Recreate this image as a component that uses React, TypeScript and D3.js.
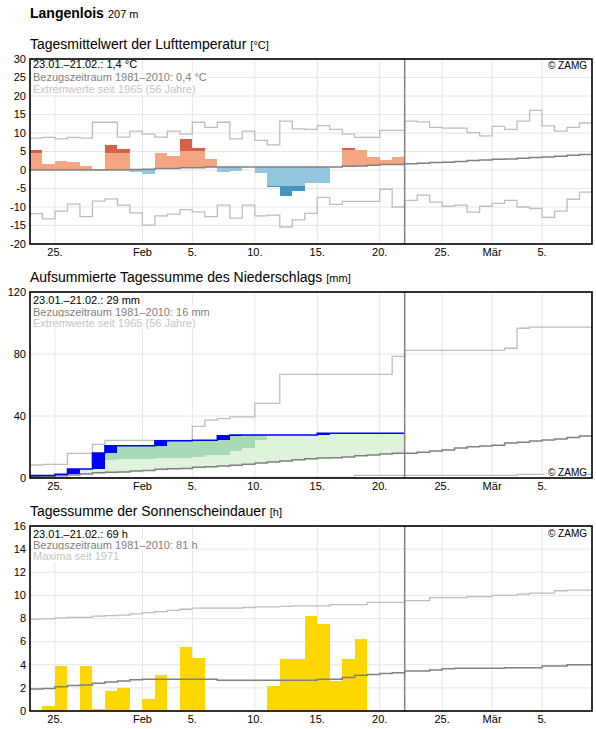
import { useEffect, useRef } from 'react';
import * as d3 from 'd3';

const startDate = new Date(Date.UTC(2021, 0, 23));
const dayCount = 45;
const todayIndex = 30;

const tickDays = [2, 9, 13, 18, 23, 28, 33, 37, 41];
const tickLabels = ['25.', 'Feb', '5.', '10.', '15.', '20.', '25.', 'Mär', '5.'];

// Lufttemperatur, Tagesmittel (°C), 23.01.–21.02.
const tempMean = [5.5, 1.6, 2.4, 2.2, 1.1, 0.2, 6.8, 5.7, -0.5, -1.0, 4.7, 3.9, 8.5, 6.0, 3.1, -0.6, -0.4, 0.8, -0.9, -4.6, -7.1, -5.8, -3.4, -3.6, 0.8, 6.0, 5.5, 3.5, 2.8, 3.6];
const tempClim = [0, 0, 0, 0, 0, 0, 0, 0, 0.15, 0.2, 0.4, 0.4, 0.6, 0.6, 0.8, 0.8, 0.8, 0.8, 0.8, 0.8, 0.8, 0.8, 0.8, 0.8, 0.8, 1.0, 1.1, 1.3, 1.5, 1.5, 1.7, 1.8, 2.0, 2.1, 2.3, 2.6, 2.7, 2.9, 3.0, 3.2, 3.4, 3.5, 3.7, 4.0, 4.2];
const tempMax = [8.6, 8.8, 8.4, 8.8, 8.6, 12.9, 12.9, 8.9, 10.5, 9.7, 8.9, 10.5, 9.7, 12.9, 11.5, 12.9, 8.4, 10.5, 8.0, 6.8, 13.2, 11.1, 11.0, 12.0, 11.0, 9.7, 8.8, 8.8, 10.7, 10.7, 13.2, 13.0, 11.5, 11.3, 11.3, 10.1, 9.2, 11.8, 11.0, 13.2, 16.1, 11.9, 10.5, 11.5, 12.7];
const tempMin = [-11.8, -13.2, -11.1, -9.2, -12.6, -8.4, -7.8, -9.5, -11.6, -14.9, -12.4, -11.9, -10.7, -11.3, -12.6, -9.5, -13.0, -9.5, -12.4, -12.2, -15.4, -13.5, -11.7, -7.4, -9.3, -8.5, -8.5, -8.5, -5.2, -10.0, -8.2, -6.8, -8.7, -9.8, -9.5, -11.4, -9.8, -9.0, -8.2, -10.0, -10.4, -12.8, -11.1, -7.9, -6.0];
const tempUpperDev = 4.5;
const tempLowerDev = -5.2;

// Niederschlag (mm)
const precipDaily = [1.6, 0, 0.8, 3.4, 0, 10.3, 4.7, 0, 0, 0, 3.3, 0, 0, 0.2, 0, 3.0, 0.4, 0, 0, 0, 0, 0, 0, 1.1, 0, 0, 0, 0, 0, 0];
const precipUpper = [3, 4, 5, 7, 8, 10, 11.8, 12.5, 12.5, 12.5, 12.9, 13.1, 13.1, 13.8, 14.8, 14.8, 17.4, 19.6, 24.5, 29, 30, 31, 32, 33, 34, 35, 36, 37, 38, 39];
const precipClim = [0.6, 1.1, 1.5, 1.9, 2.6, 3.4, 3.7, 3.9, 4.5, 4.9, 5.6, 6.0, 6.2, 6.9, 7.3, 7.7, 8.2, 8.8, 9.7, 10.3, 11.0, 11.8, 12.5, 12.9, 13.1, 13.5, 14.4, 14.8, 15.5, 15.9, 16.0, 16.6, 17.4, 18.1, 19.4, 20.2, 20.6, 21.1, 22.6, 23.0, 23.9, 24.5, 25.2, 26.2, 27.1];
const precipMax = [8.4, 8.8, 8.8, 15.9, 15.9, 21.7, 24.3, 24.3, 24.3, 24.3, 24.3, 24.3, 24.3, 33.3, 37.4, 38.3, 39.4, 39.4, 48.2, 48.2, 66.9, 66.9, 66.9, 66.9, 66.9, 66.9, 66.9, 66.9, 66.9, 78.5, 82.4, 82.4, 82.4, 82.4, 82.4, 82.4, 82.4, 82.4, 83.7, 96.6, 97.4, 97.4, 97.4, 97.4, 97.4];
const precipMin = [0.2, 0.2, 0.2, 0.2, 0.2, 0.2, 0.2, 0.2, 0.2, 0.2, 0.4, 0.4, 0.4, 0.4, 0.4, 0.4, 0.4, 0.4, 0.4, 0.4, 0.4, 0.4, 0.4, 0.4, 0.4, 0.4, 1.7, 1.7, 1.7, 1.7, 1.7, 1.7, 1.7, 1.7, 1.7, 1.7, 1.7, 1.7, 1.7, 2.4, 2.4, 2.4, 2.4, 2.4, 2.4];

// Sonnenscheindauer (h)
const sunDaily = [0, 0.45, 3.9, 0, 3.9, 0.2, 1.7, 2.0, 0, 1.0, 3.1, 0, 5.55, 4.6, 0, 0, 0, 0, 0, 2.2, 4.5, 4.5, 8.2, 7.5, 2.6, 4.5, 6.2, 0, 0, 0];
const sunClim = [1.9, 1.95, 2.1, 2.2, 2.25, 2.4, 2.5, 2.6, 2.7, 2.75, 2.75, 2.75, 2.75, 2.75, 2.75, 2.65, 2.65, 2.65, 2.65, 2.65, 2.65, 2.65, 2.65, 2.75, 2.75, 2.9, 3.1, 3.15, 3.25, 3.3, 3.45, 3.45, 3.55, 3.65, 3.7, 3.7, 3.7, 3.7, 3.75, 3.75, 3.75, 3.9, 3.9, 4.0, 4.0];
const sunMax = [7.94, 7.97, 8.06, 8.1, 8.1, 8.2, 8.25, 8.3, 8.4, 8.5, 8.6, 8.7, 8.8, 8.9, 8.9, 8.9, 8.9, 8.95, 9.0, 9.0, 9.05, 9.1, 9.1, 9.1, 9.2, 9.2, 9.2, 9.4, 9.4, 9.4, 9.55, 9.55, 9.8, 9.8, 9.8, 9.9, 9.9, 10.0, 10.0, 10.1, 10.2, 10.2, 10.4, 10.45, 10.45];

const FONT = '"Liberation Sans", Arial, sans-serif';
const GRID = '#e6e6e6';
const CLIM = '#808080';
const EXTREME = '#bdbdbd';

const day = (i: number) => d3.utcDay.offset(startDate, i);

const App: React.FC = () => {
    const svgRef = useRef<SVGSVGElement>(null);

    useEffect(() => {
        if (!svgRef.current) return;
        const svg = d3.select(svgRef.current);
        svg.selectAll('*').remove();
        svg.append('rect').attr('width', 596).attr('height', 729).attr('fill', '#fff');

        const left = 30, right = 592;
        const x = d3.scaleUtc().domain([day(0), day(dayCount)]).range([left, right]);

        const stepPath = (y: d3.ScaleLinear<number, number>, values: number[]) =>
            d3.line<number>()
                .x((_, i) => x(day(i)))
                .y(v => y(v))
                .curve(d3.curveStepAfter)([...values, values[values.length - 1]]);

        // header
        const head = svg.append('text').attr('x', 30).attr('y', 18).attr('font-family', FONT);
        head.append('tspan').attr('font-size', 14).attr('font-weight', 'bold').text('Langenlois');
        head.append('tspan').attr('font-size', 11).attr('dx', 4).text('207 m');

        const makePanel = (top: number, bottom: number, domain: [number, number], ticks: number[], title: string, unit: string) => {
            const y = d3.scaleLinear().domain(domain).range([bottom, top]);
            const g = svg.append('g');

            const t = g.append('text').attr('x', 30).attr('y', top - 10).attr('font-family', FONT).attr('font-size', 14);
            t.append('tspan').text(title);
            t.append('tspan').attr('font-size', 11).attr('dx', 4).text(unit);

            g.selectAll('.hgrid').data(ticks).join('line')
                .attr('x1', left).attr('x2', right)
                .attr('y1', d => y(d)).attr('y2', d => y(d))
                .attr('stroke', GRID);
            g.selectAll('.vgrid').data(tickDays).join('line')
                .attr('x1', d => x(day(d))).attr('x2', d => x(day(d)))
                .attr('y1', top).attr('y2', bottom)
                .attr('stroke', GRID);

            g.selectAll('.ylab').data(ticks).join('text')
                .attr('x', 26).attr('y', d => y(d)).attr('dy', '0.35em')
                .attr('text-anchor', 'end').attr('font-family', FONT).attr('font-size', 11)
                .text(d => d);
            g.selectAll('.xlab').data(tickDays).join('text')
                .attr('x', d => x(day(d))).attr('y', bottom + 12)
                .attr('text-anchor', 'middle').attr('font-family', FONT).attr('font-size', 11)
                .text((_, i) => tickLabels[i]);

            const data = g.append('g').attr('shape-rendering', 'crispEdges');
            const lines = g.append('g');
            return { y, g, data, lines, top, bottom };
        };

        const finishPanel = (p: { g: d3.Selection<SVGGElement, unknown, null, undefined>; top: number; bottom: number }, lines: string[], baselines: number[], zamgY: number) => {
            p.g.append('line')
                .attr('x1', x(day(todayIndex))).attr('x2', x(day(todayIndex)))
                .attr('y1', p.top).attr('y2', p.bottom)
                .attr('stroke', CLIM).attr('stroke-width', 1.5);

            const colors = ['#000', '#808080', '#c4c4c4'];
            lines.forEach((txt, i) => {
                const tx = p.g.append('text')
                    .attr('x', 33).attr('y', p.top + baselines[i])
                    .attr('font-family', FONT).attr('font-size', 11).attr('fill', colors[i])
                    .text(txt);
                const bb = (tx.node() as SVGTextElement).getBBox();
                p.g.insert('rect', () => tx.node() as SVGTextElement)
                    .attr('x', bb.x - 1).attr('y', bb.y).attr('width', bb.width + 2).attr('height', bb.height)
                    .attr('fill', '#fff');
            });

            const z = p.g.append('text')
                .attr('x', 587).attr('y', zamgY)
                .attr('text-anchor', 'end').attr('font-family', FONT).attr('font-size', 10)
                .text('© ZAMG');
            const zb = (z.node() as SVGTextElement).getBBox();
            p.g.insert('rect', () => z.node() as SVGTextElement)
                .attr('x', zb.x - 4).attr('y', zb.y).attr('width', zb.width + 4).attr('height', zb.height)
                .attr('fill', '#fff');

            p.g.append('rect')
                .attr('x', left).attr('y', p.top).attr('width', right - left).attr('height', p.bottom - p.top)
                .attr('fill', 'none').attr('stroke', '#000').attr('stroke-width', 1.6);
        };

        // ---- Panel 1: Temperatur
        const p1 = makePanel(59, 244, [-20, 30], d3.range(-20, 31, 5), 'Tagesmittelwert der Lufttemperatur', '[°C]');
        tempMean.forEach((v, i) => {
            const c = tempClim[i];
            const x0 = x(day(i)), w = x(day(i + 1)) - x0;
            if (v > c) {
                const hi = c + tempUpperDev;
                p1.data.append('rect').attr('x', x0).attr('width', w)
                    .attr('y', p1.y(Math.min(v, hi))).attr('height', p1.y(c) - p1.y(Math.min(v, hi)))
                    .attr('fill', '#f4a582');
                if (v > hi) p1.data.append('rect').attr('x', x0).attr('width', w)
                    .attr('y', p1.y(v)).attr('height', p1.y(hi) - p1.y(v)).attr('fill', '#d6604d');
            } else if (v < c) {
                const lo = c + tempLowerDev;
                p1.data.append('rect').attr('x', x0).attr('width', w)
                    .attr('y', p1.y(c)).attr('height', p1.y(Math.max(v, lo)) - p1.y(c))
                    .attr('fill', '#92c5de');
                if (v < lo) p1.data.append('rect').attr('x', x0).attr('width', w)
                    .attr('y', p1.y(lo)).attr('height', p1.y(v) - p1.y(lo)).attr('fill', '#4393c3');
            }
        });
        p1.lines.append('path').attr('d', stepPath(p1.y, tempMax)).attr('fill', 'none').attr('stroke', EXTREME).attr('stroke-width', 1.3);
        p1.lines.append('path').attr('d', stepPath(p1.y, tempMin)).attr('fill', 'none').attr('stroke', EXTREME).attr('stroke-width', 1.3);
        p1.lines.append('path').attr('d', stepPath(p1.y, tempClim)).attr('fill', 'none').attr('stroke', CLIM).attr('stroke-width', 1.5);
        finishPanel(p1, ['23.01.–21.02.: 1,4 °C', 'Bezugszeitraum 1981–2010: 0,4 °C', 'Extremwerte seit 1965 (56 Jahre)'], [9, 21.5, 34], 68.5);

        // ---- Panel 2: Niederschlag
        const p2 = makePanel(292, 478, [0, 120], [0, 40, 80, 120], 'Aufsummierte Tagessumme des Niederschlags', '[mm]');
        const precipCum = d3.cumsum(precipDaily);
        precipCum.forEach((cum, i) => {
            const lo = precipClim[i], thr = precipUpper[i];
            const x0 = x(day(i)), w = x(day(i + 1)) - x0;
            if (cum > lo) {
                const top = Math.min(cum, thr);
                if (top > lo) p2.data.append('rect').attr('x', x0).attr('width', w)
                    .attr('y', p2.y(top)).attr('height', p2.y(lo) - p2.y(top)).attr('fill', '#dff2dc');
                if (cum > thr) p2.data.append('rect').attr('x', x0).attr('width', w)
                    .attr('y', p2.y(cum)).attr('height', p2.y(Math.max(thr, lo)) - p2.y(cum)).attr('fill', '#a8dbb5');
            }
            if (precipDaily[i] > 0) p2.data.append('rect').attr('x', x0).attr('width', w)
                .attr('y', p2.y(cum)).attr('height', p2.y(cum - precipDaily[i]) - p2.y(cum)).attr('fill', '#0000ff');
        });
        p2.lines.append('path').attr('d', stepPath(p2.y, precipMax)).attr('fill', 'none').attr('stroke', EXTREME).attr('stroke-width', 1.3);
        p2.lines.append('path').attr('d', stepPath(p2.y, precipMin)).attr('fill', 'none').attr('stroke', EXTREME).attr('stroke-width', 1.3);
        p2.lines.append('path').attr('d', stepPath(p2.y, precipClim)).attr('fill', 'none').attr('stroke', CLIM).attr('stroke-width', 1.5);
        p2.lines.append('path').attr('d', stepPath(p2.y, Array.from(precipCum))).attr('fill', 'none').attr('stroke', '#0000ff').attr('stroke-width', 1.5);
        finishPanel(p2, ['23.01.–21.02.: 29 mm', 'Bezugszeitraum 1981–2010: 16 mm', 'Extremwerte seit 1965 (56 Jahre)'], [12, 23.5, 35], 476);

        // ---- Panel 3: Sonnenschein
        const p3 = makePanel(526, 711, [0, 16], d3.range(0, 17, 2), 'Tagessumme der Sonnenscheindauer', '[h]');
        p3.data.selectAll('rect').data(sunDaily).join('rect')
            .attr('x', (_, i) => x(day(i)))
            .attr('width', (_, i) => x(day(i + 1)) - x(day(i)))
            .attr('y', d => p3.y(d))
            .attr('height', d => p3.y(0) - p3.y(d))
            .attr('fill', '#ffd700');
        p3.lines.append('path').attr('d', stepPath(p3.y, sunMax)).attr('fill', 'none').attr('stroke', EXTREME).attr('stroke-width', 1.3);
        p3.lines.append('path').attr('d', stepPath(p3.y, sunClim)).attr('fill', 'none').attr('stroke', CLIM).attr('stroke-width', 1.5);
        finishPanel(p3, ['23.01.–21.02.: 69 h', 'Bezugszeitraum 1981–2010: 81 h', 'Maxima seit 1971'], [12, 23, 34], 537);
    }, []);

    return (
        <svg ref={svgRef} width={596} height={729} style={{ position: 'absolute', left: 0, top: 0, display: 'block' }} />
    );
};

export default App;
